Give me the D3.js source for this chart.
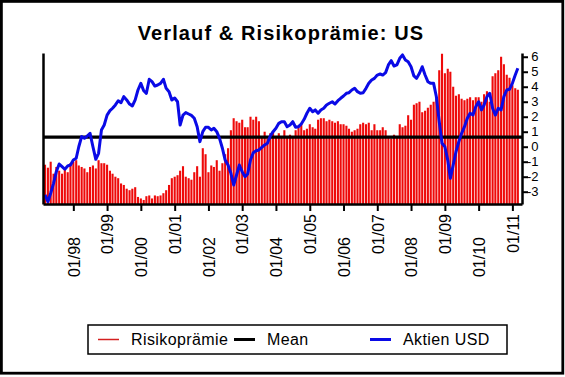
<!DOCTYPE html>
<html>
<head>
<meta charset="utf-8">
<script src="https://cdn.jsdelivr.net/npm/d3@7"></script>
<style>
body { margin: 0; background: #fff; }
text { font-family: Arial, "Liberation Sans", sans-serif; fill: #000; }
</style>
</head>
<body>
<svg id="chart" width="565" height="377"></svg>
<script>
const chartTitle = "Verlauf & Risikoprämie: US";
const firstMonth = new Date(1997, 2, 1);

// monthly risk premium, Mar 1997 .. Mar 2011
const riskPremium = [
  -1.2, -1.4, -1.0, -1.8, -1.35, -1.6, -1.8, -1.35, -1.7, -1.1,
  -1.0, -0.9, -1.25, -1.35, -1.45, -1.7, -1.35, -1.25, -1.45, -0.9, -1.1, -1.1,
  -1.2, -1.6, -1.8, -2.0, -2.1, -2.45, -2.55, -2.8, -2.9, -2.8, -2.7, -3.35,
  -3.45, -3.55, -3.3, -3.25, -3.45, -3.25, -3.3, -3.25, -3.1, -2.9, -2.55, -2.1,
  -2.0, -1.9, -1.6, -1.3, -2.0, -2.1, -2.2, -1.7, -1.3, -2.0, -0.1, -0.5,
  -1.7, -1.25, -1.35, -0.9, -1.6, -1.1, -0.5, -0.1, 1.1, 1.9, 1.7, 1.6,
  1.8, 1.3, 1.3, 2.0, 1.8, 2.0, 1.7, 0.7, 1.0, 0.55, 0.9, 1.0,
  0.7, 0.9, 0.7, 1.1, 0.7, 0.8, 0.6, 1.1, 1.3, 1.5, 1.1, 1.2,
  1.5, 1.3, 1.2, 1.8, 1.9, 1.9, 1.7, 1.8, 1.7, 1.6, 1.7, 1.5,
  1.5, 1.4, 1.2, 1.0, 1.1, 1.2, 1.5, 1.6, 1.5, 1.6, 1.1, 1.5,
  1.1, 1.1, 1.3, 1.1, 0.7, 0.55, 0.8, 0.7, 1.5, 1.3, 1.4, 2.1,
  1.8, 2.8, 2.9, 3.0, 2.3, 2.4, 2.6, 2.8, 3.0, 3.2, 5.1, 6.2,
  4.9, 5.2, 5.0, 4.0, 3.4, 3.5, 3.2, 3.1, 3.2, 3.3, 3.1, 3.3,
  3.3, 3.0, 3.5, 3.7, 3.0, 4.7, 4.9, 5.1, 6.0, 5.5, 4.8, 4.6,
  4.1, 3.9, 3.8
];

// equity index (USD), same months, own hidden scale
const aktienUSD = [
  6.0, 1.5, 7.1, 13.7, 21.4, 26.5, 24.7, 23.0, 25.2, 25.8,
  29.1, 30.3, 37.9, 44.6, 43.5, 45.0, 46.8, 37.9, 29.6, 33.6, 49.0, 52.3,
  58.9, 61.8, 63.4, 65.6, 68.4, 67.1, 71.1, 68.9, 66.2, 64.9, 68.9, 75.5,
  79.9, 75.0, 73.3, 82.6, 81.0, 78.1, 78.8, 79.9, 82.6, 76.6, 74.4, 68.9,
  70.2, 67.7, 52.3, 58.9, 60.5, 59.6, 58.7, 56.8, 51.2, 41.3, 47.9, 50.8,
  50.8, 49.0, 50.1, 47.9, 43.5, 36.9, 29.1, 25.8, 20.3, 12.6, 19.2, 25.8,
  21.4, 18.1, 19.9, 29.1, 34.0, 35.3, 35.8, 37.5, 39.1, 40.2, 45.0, 47.9,
  50.1, 53.4, 54.5, 54.5, 51.2, 52.3, 54.5, 50.8, 51.2, 53.0, 56.1, 60.1,
  63.4, 61.1, 62.3, 60.1, 62.3, 63.4, 65.6, 66.7, 67.7, 66.2, 68.4, 70.0,
  71.5, 73.3, 73.7, 75.5, 76.6, 74.4, 73.3, 73.7, 76.6, 79.9, 82.1, 83.2,
  85.4, 86.1, 85.4, 87.0, 92.1, 94.9, 91.4, 92.1, 96.5, 98.7, 95.4, 94.2,
  90.9, 84.8, 83.2, 86.6, 90.9, 85.4, 81.0, 79.9, 79.9, 71.0, 54.5, 40.2,
  37.9, 29.1, 17.0, 25.8, 34.6, 41.3, 46.8, 51.2, 56.8, 60.1, 58.9, 64.4,
  67.7, 62.3, 65.6, 71.1, 73.3, 63.4, 58.9, 63.4, 62.3, 71.1, 75.5, 76.0,
  79.9, 85.4, 89.9
];

const tickYears = [1998, 1999, 2000, 2001, 2002, 2003, 2004, 2005, 2006, 2007, 2008, 2009, 2010, 2011];
const tickLabels = ["01/98", "01/99", "01/00", "01/01", "01/02", "01/03", "01/04",
                    "01/05", "01/06", "01/07", "01/08", "01/09", "01/10", "01/11"];
const premiumTicks = [-3, -2, -1, 0, 1, 2, 3, 4, 5, 6];
const legendLabels = ["Risikoprämie", "Mean", "Aktien USD"];

const months = d3.timeMonth.range(firstMonth, d3.timeMonth.offset(firstMonth, riskPremium.length));
const meanPremium = d3.mean(riskPremium);

const svg = d3.select("#chart");
const plotLeft = 43, plotRight = 522, plotTop = 53, plotBottom = 204;

const x = d3.scaleTime()
    .domain([new Date(1997, 1, 7), new Date(2011, 3, 15)])
    .range([plotLeft, plotRight]);
const y = d3.scaleLinear().domain([-3.82, 6.25]).range([plotBottom, plotTop]);
const yAktien = d3.scaleLinear().domain([0, 100]).range([plotBottom, plotTop]);

// outer frame
svg.append("rect")
    .attr("x", 1.4).attr("y", 1.4)
    .attr("width", 561.4).attr("height", 371.8)
    .attr("fill", "#fff")
    .attr("stroke", "#000")
    .attr("stroke-width", 2.8);

svg.append("text")
    .attr("x", 281).attr("y", 40)
    .attr("text-anchor", "middle")
    .style("font-size", "20px")
    .style("font-weight", "bold")
    .style("letter-spacing", "1.1px")
    .text(chartTitle);

// bars
svg.append("g")
    .selectAll("rect")
    .data(riskPremium)
    .join("rect")
    .attr("x", (d, i) => x(months[i]) - 1.05)
    .attr("width", 2.1)
    .attr("y", d => y(d))
    .attr("height", d => plotBottom - y(d))
    .attr("fill", "#ee0a0a");

// mean line
svg.append("line")
    .attr("x1", plotLeft).attr("x2", plotRight)
    .attr("y1", y(meanPremium)).attr("y2", y(meanPremium))
    .attr("stroke", "#000")
    .attr("stroke-width", 3.2);

// equity line
const line = d3.line()
    .x((d, i) => x(months[i]))
    .y(d => yAktien(d));

svg.append("path")
    .datum(aktienUSD)
    .attr("d", line)
    .attr("fill", "none")
    .attr("stroke", "#0a0ae6")
    .attr("stroke-width", 3)
    .attr("stroke-linejoin", "round");

// left axis (no ticks)
svg.append("g")
    .attr("transform", `translate(${plotLeft},0)`)
    .call(d3.axisLeft(yAktien).tickValues([]).tickSizeOuter(0))
    .call(g => g.select(".domain").attr("stroke-width", 2.5));

// bottom axis
const xAxis = d3.axisBottom(x)
    .tickValues(tickYears.map(yr => new Date(yr, 0, 1)))
    .tickSize(7)
    .tickSizeOuter(0)
    .tickFormat((d, i) => tickLabels[i]);

svg.append("g")
    .attr("transform", `translate(0,${plotBottom})`)
    .call(xAxis)
    .call(g => g.select(".domain").attr("stroke-width", 2.5))
    .call(g => g.selectAll(".tick line").attr("stroke-width", 2))
    .call(g => g.selectAll(".tick text")
        .attr("transform", "rotate(-90)")
        .attr("text-anchor", "end")
        .attr("x", (d, i) => i % 2 ? -10 : -33)
        .attr("y", 0)
        .attr("dy", "0.36em")
        .style("font-size", "16px")
        .style("font-family", "Arial, 'Liberation Sans', sans-serif"));

// right axis
svg.append("g")
    .attr("transform", `translate(${plotRight},0)`)
    .call(d3.axisRight(y).tickValues(premiumTicks).tickSize(6).tickSizeOuter(0)
        .tickFormat(d => String(d)))
    .call(g => g.select(".domain").attr("stroke-width", 2.5))
    .call(g => g.selectAll(".tick line").attr("stroke-width", 2))
    .call(g => g.selectAll(".tick text")
        .attr("text-anchor", "end")
        .attr("x", 16.5)
        .style("font-size", "13px")
        .style("font-family", "Arial, 'Liberation Sans', sans-serif"));

// legend
const legend = svg.append("g");
legend.append("rect")
    .attr("x", 88).attr("y", 325)
    .attr("width", 419).attr("height", 29)
    .attr("fill", "#fff")
    .attr("stroke", "#000")
    .attr("stroke-width", 1.5);

const legendX = [98, 234, 370];
const legendStyle = [
  { color: "#d42020", width: 1.5 },
  { color: "#000", width: 3 },
  { color: "#0a0ae6", width: 3 }
];
legendLabels.forEach((label, i) => {
  legend.append("line")
      .attr("x1", legendX[i]).attr("x2", legendX[i] + 21)
      .attr("y1", 339.5).attr("y2", 339.5)
      .attr("stroke", legendStyle[i].color)
      .attr("stroke-width", legendStyle[i].width);
  legend.append("text")
      .attr("x", legendX[i] + 33).attr("y", 345)
      .style("font-size", "16px")
      .style("letter-spacing", "0.4px")
      .text(label);
});
</script>
</body>
</html>
